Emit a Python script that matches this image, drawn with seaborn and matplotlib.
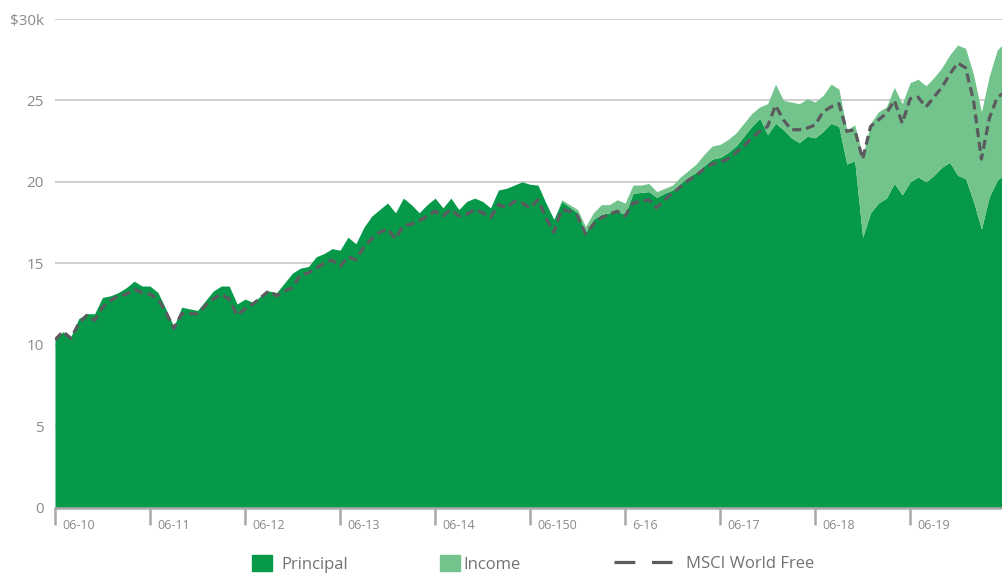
import numpy as np
import pandas as pd
import matplotlib
matplotlib.use('Agg')
import matplotlib.pyplot as plt
import matplotlib.transforms as mtransforms
from matplotlib.patches import Patch
from matplotlib.lines import Line2D
import seaborn as sns

# monthly values, $k, starting 06-10
principal = [10.3, 10.8, 10.5, 11.6, 11.9, 11.9, 12.9, 13.0, 13.2, 13.5,
             13.9, 13.6, 13.6, 13.2, 12.2, 11.1, 12.3, 12.2, 12.1, 12.7,
             13.3, 13.6, 13.6, 12.5, 12.8, 12.6, 13.0, 13.3, 13.2, 13.8,
             14.4, 14.7, 14.8, 15.4, 15.6, 15.9, 15.8, 16.6, 16.2, 17.2,
             17.9, 18.3, 18.7, 18.1, 19.0, 18.6, 18.1, 18.6, 19.0, 18.4,
             19.0, 18.3, 18.8, 19.0, 18.8, 18.4, 19.5, 19.6, 19.8, 20.0,
             19.85, 19.8, 18.7, 17.7, 18.8, 18.45, 18.1, 16.9, 17.7, 18.0,
             18.1, 18.2, 18.0, 19.3, 19.35, 19.4, 19.05, 19.3, 19.5, 19.9,
             20.3, 20.6, 21.0, 21.4, 21.5, 21.8, 22.2, 22.8, 23.4, 23.9,
             22.9, 23.6, 23.2, 22.7, 22.4, 22.8, 22.7, 23.1, 23.6, 23.4,
             21.1, 21.3, 16.6, 18.1, 18.7, 19.0, 19.9, 19.2, 20.0, 20.3,
             20.0, 20.4, 20.9, 21.2, 20.4, 20.2, 18.8, 17.1, 19.1, 20.1,
             20.5]
income = [0] * 64 + [0.1, 0.15, 0.2, 0.35, 0.4, 0.6, 0.5, 0.7, 0.7, 0.5,
                     0.45, 0.5, 0.35, 0.3, 0.3, 0.4, 0.4, 0.5, 0.7, 0.8,
                     0.8, 0.8, 0.8, 0.8, 0.8, 0.7, 1.9, 2.4, 1.8, 2.2,
                     2.4, 2.3, 2.2, 2.2, 2.4, 2.3, 2.1, 2.2, 5.0, 5.5,
                     5.6, 5.6, 5.9, 5.6, 6.1, 6.0, 5.9, 6.0, 6.1, 6.6,
                     8.0, 8.0, 7.8, 7.2, 7.4, 8.0, 8.1]
msci = [10.3, 10.8, 10.4, 11.3, 11.8, 11.5, 12.3, 12.7, 13.0, 13.1,
        13.4, 13.2, 13.1, 12.8, 12.0, 11.0, 11.9, 11.9, 11.9, 12.4,
        12.8, 13.1, 12.8, 11.8, 12.2, 12.5, 12.9, 13.3, 13.0, 13.3,
        13.5, 14.3, 14.4, 14.7, 15.0, 15.2, 14.8, 15.4, 15.2, 16.0,
        16.5, 16.9, 17.1, 16.5, 17.3, 17.4, 17.6, 17.9, 18.2, 17.9,
        18.3, 17.9, 18.0, 18.3, 18.1, 17.8, 18.6, 18.4, 18.8, 18.7,
        18.4, 18.9, 17.8, 16.9, 18.3, 18.2, 17.9, 16.8, 17.4, 17.8,
        18.0, 18.2, 17.9, 18.7, 18.8, 18.9, 18.4, 18.9, 19.3, 19.7,
        20.1, 20.4, 20.8, 21.1, 21.2, 21.4, 21.8, 22.2, 22.7, 23.1,
        23.4, 24.7, 23.8, 23.2, 23.2, 23.3, 23.5, 24.3, 24.6, 24.8,
        23.1, 23.2, 21.4, 23.4, 23.8, 24.2, 25.0, 23.6, 25.1, 25.2,
        24.6, 25.2, 25.8, 26.6, 27.3, 27.0, 25.0, 21.4, 23.9, 25.2,
        25.5]

tick_pos = [0, 12, 24, 36, 48, 60, 72, 84, 96, 108]
tick_labels = ['06-10', '06-11', '06-12', '06-13', '06-14', '06-150', '6-16',
               '06-17', '06-18', '06-19']
y_ticks = [0, 5, 10, 15, 20, 25, 30]
y_labels = ['0', '5', '10', '15', '20', '25', '$30k']

dark = '#07994a'
light = '#72c48c'
grey_line = '#5b5a5f'

sns.set_theme(style='white')
plt.rcParams['font.family'] = ['Open Sans', 'DejaVu Sans']
plt.rcParams['lines.scale_dashes'] = False

df = pd.DataFrame({'month': np.arange(len(principal)), 'principal': principal,
                   'income': income, 'msci': msci})

fig = plt.figure(figsize=(10.02, 5.74), dpi=100)
ax = fig.add_axes([55 / 1002, 66.5 / 574, 947 / 1002, 488.5 / 574])

ax.stackplot(df.month, df.principal, df.income, colors=[dark, light], linewidth=0)
sns.lineplot(data=df, x='month', y='msci', ax=ax, color=grey_line, lw=2.3)
ax.lines[-1].set_dashes((6.5, 3.5))

ax.set_xlim(0, 119.6)
ax.set_ylim(0, 30)
ax.set_xlabel('')
ax.set_ylabel('')

ax.yaxis.grid(True, color='#c6c6c6', lw=1.2)
ax.set_axisbelow(True)
for s in ['left', 'right', 'top']:
    ax.spines[s].set_visible(False)
ax.spines['bottom'].set_color('#a9a9a9')
ax.spines['bottom'].set_linewidth(1.8)
ax.spines['bottom'].set_zorder(5)

ax.set_yticks(y_ticks, y_labels)
ax.tick_params(axis='y', length=0, pad=8, labelsize=11, labelcolor='#8a8a8a')
ax.set_xticks(tick_pos, tick_labels)
ax.tick_params(axis='x', bottom=True, length=12.5, width=1.8, color='#a9a9a9',
               pad=-4.5, labelsize=9, labelcolor='#8a8a8a', direction='out')
offset = mtransforms.ScaledTranslation(5.5 / 72, 0, fig.dpi_scale_trans)
for lab in ax.get_xticklabels():
    lab.set_horizontalalignment('left')
    lab.set_transform(lab.get_transform() + offset)

# legend, one entry per box so each handle gets its own size
leg_y = 1 - 564 / 574
fs = 12
common = dict(loc='center left', frameon=False, borderpad=0, borderaxespad=0,
              fontsize=fs, labelcolor='#727272')
fig.legend(handles=[Patch(color=dark, label='Principal')],
           bbox_to_anchor=(252 / 1002, leg_y), handlelength=1.2, handleheight=1.1,
           handletextpad=0.55, **common)
fig.legend(handles=[Patch(color=light, label='Income')],
           bbox_to_anchor=(440 / 1002, leg_y), handlelength=1.2, handleheight=1.1,
           handletextpad=0.2, **common)
fig.legend(handles=[Line2D([], [], color=grey_line, lw=2.3, dashes=(15, 12),
                           label='MSCI World Free')],
           bbox_to_anchor=(614 / 1002, leg_y), handlelength=3.5,
           handletextpad=0.8, **common)

fig.savefig('out.png', dpi=100)
